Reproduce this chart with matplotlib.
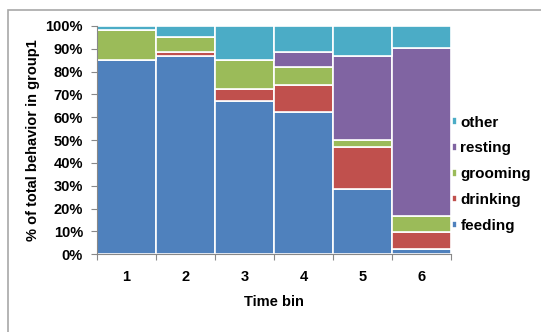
import numpy as np
import matplotlib
matplotlib.use('Agg')
import matplotlib.pyplot as plt
from matplotlib.patches import Rectangle

plt.rcParams['font.family'] = ['Liberation Sans', 'DejaVu Sans']
plt.rcParams['font.weight'] = 'bold'

time_bins = ['1', '2', '3', '4', '5', '6']
feeding = [85.2, 86.9, 67.1, 62.3, 28.5, 2.2]
drinking = [0.0, 1.7, 5.2, 11.9, 18.5, 7.7]
grooming = [13.2, 6.7, 12.9, 7.7, 3.1, 6.9]
resting = [0.0, 0.0, 0.0, 6.8, 36.9, 73.4]
other = [1.6, 4.7, 14.8, 11.3, 13.0, 9.8]

series = [('feeding', feeding, '#4F81BD'),
          ('drinking', drinking, '#C0504D'),
          ('grooming', grooming, '#9BBB59'),
          ('resting', resting, '#8064A2'),
          ('other', other, '#4BACC6')]

fig = plt.figure(figsize=(5.41, 3.32), dpi=100)
fig.patches.append(Rectangle((8/541, -0.1), 1.2, (332-10)/332 + 0.1,
                             transform=fig.transFigure, fill=False,
                             edgecolor='#A8A8A8', linewidth=1.2))
ax = fig.add_axes([0.1793, 0.234, 0.6543, 0.6877])

x = np.arange(1, len(time_bins) + 1)
bottom = np.zeros(len(x))
handles = []
for name, vals, col in series:
    vals = np.array(vals)
    b = ax.bar(x, vals, width=1.0, bottom=bottom, color=col,
               edgecolor='white', linewidth=1.2, label=name)
    bottom += vals
    handles.append(b)

fs = 10.5
ax.set_xlim(0.5, 6.5)
ax.set_ylim(0, 100)
ax.set_yticks(np.arange(0, 101, 10))
ax.set_yticklabels([f'{v}%' for v in range(0, 101, 10)], fontsize=fs, fontweight='bold')
ax.set_xticks(np.arange(0.5, 7, 1))
ax.set_xticklabels([])
ax.set_xticks(x, minor=True)
ax.set_xticklabels(time_bins, minor=True, fontsize=fs, fontweight='bold')
ax.tick_params(axis='x', which='minor', length=0, pad=11)
ax.tick_params(axis='x', which='major', length=4, color='#888888')
ax.tick_params(axis='y', length=4, color='#888888', pad=6)
for s in ['top', 'right']:
    ax.spines[s].set_visible(False)
for s in ['left', 'bottom']:
    ax.spines[s].set_color('#888888')

ax.set_xlabel('Time bin', fontsize=fs, fontweight='bold', labelpad=8)
ax.set_ylabel('% of total behavior in group1', fontsize=fs, fontweight='bold', labelpad=4)

leg = ax.legend(handles[::-1], [s[0] for s in series][::-1],
                loc='center left', bbox_to_anchor=(1.003, 0.35),
                frameon=False, handlelength=0.35, handleheight=0.35,
                handletextpad=0.2, labelspacing=0.78,
                borderpad=0, borderaxespad=0,
                prop={'size': 11, 'weight': 'bold'})

fig.savefig('out.png', dpi=100)
